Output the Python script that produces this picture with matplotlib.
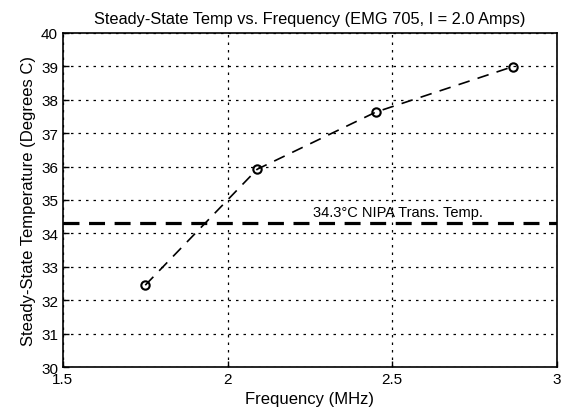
import matplotlib
matplotlib.use("Agg")
import matplotlib.pyplot as plt

freq = [1.75, 2.09, 2.45, 2.866]
temp = [32.45, 35.92, 37.63, 38.99]
nipa_temp = 34.3
nipa_label = "34.3°C NIPA Trans. Temp."
xticks = [1.5, 2, 2.5, 3]
xticklabels = ["1.5", "2", "2.5", "3"]
yticks = list(range(30, 41))

plt.rcParams['font.family'] = ['Liberation Sans', 'DejaVu Sans']
fig = plt.figure(figsize=(5.67, 4.14), dpi=100)
ax = fig.add_axes([0.111, 0.111, 0.871, 0.807])

ax.plot(freq, temp, linestyle=(0, (7, 5)), color='black', linewidth=1.2)
ax.plot(freq, temp, linestyle='none', marker='o', markersize=6,
        markerfacecolor='none', markeredgecolor='black', markeredgewidth=1.5)
ax.axhline(nipa_temp, color='black', linestyle=(0, (5, 3)), linewidth=2.3)
ax.text(2.26, nipa_temp + 0.12, nipa_label, fontsize=10.5, va='bottom', ha='left')

ax.set_xlim(1.5, 3)
ax.set_ylim(30, 40)
ax.set_xticks(xticks)
ax.set_xticklabels(xticklabels)
ax.set_yticks(yticks)
ax.tick_params(direction='in', length=4, labelsize=11, width=1)
ax.grid(True, color='black', linestyle=(0, (2, 4)), linewidth=0.9)
for s in ax.spines.values():
    s.set_linewidth(1.2)

ax.set_xlabel("Frequency (MHz)", fontsize=12)
ax.set_ylabel("Steady-State Temperature (Degrees C)", fontsize=12)
ax.set_title("Steady-State Temp vs. Frequency (EMG 705, I = 2.0 Amps)", fontsize=11.8, pad=7)

fig.savefig("out.png", dpi=100)
